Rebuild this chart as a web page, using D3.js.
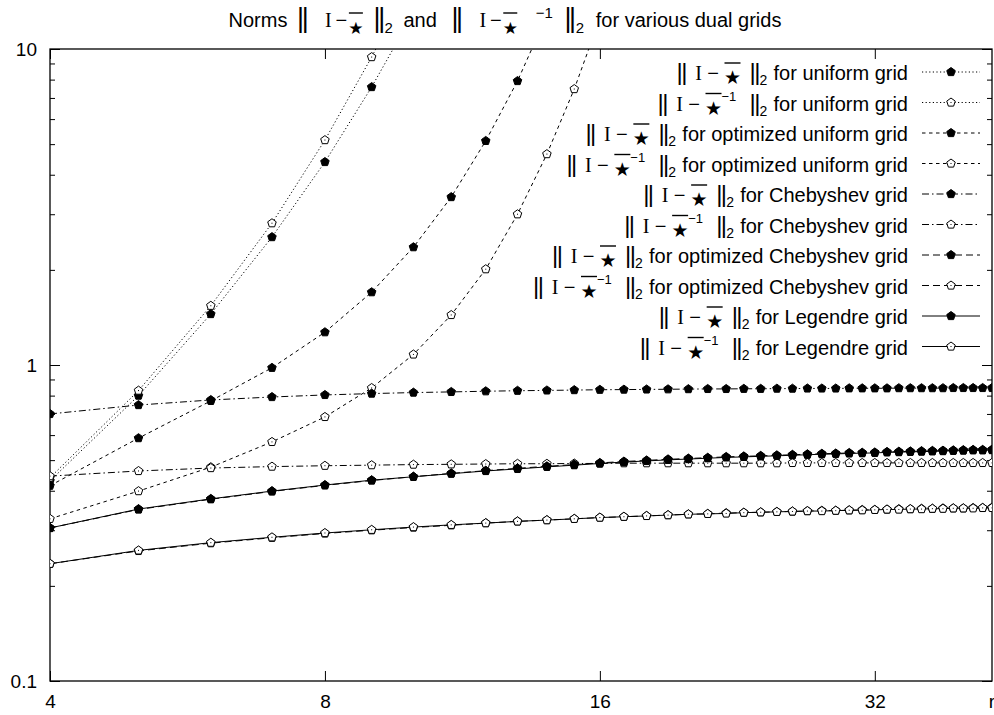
<!DOCTYPE html>
<html>
<head>
<meta charset="utf-8">
<script src="https://cdn.jsdelivr.net/npm/d3@7"></script>
<style>
  body { margin: 0; background: #fff; }
  svg { display: block; font-family: "Liberation Sans", Arial, sans-serif; }
</style>
</head>
<body>
<main></main>
<script>
// r values (number of grid points) on the x axis
const rValues = [4, 5, 6, 7, 8, 9, 10, 11, 12, 13, 14, 15, 16, 17, 18, 19, 20, 21, 22, 23,
  24, 25, 26, 27, 28, 29, 30, 31, 32, 33, 34, 35, 36, 37, 38, 39, 40, 41, 42, 43];
const xTicks = [4, 8, 16, 32];
const yTicks = [0.1, 1, 10];

// series values (index i -> rValues[i])
const uniformNorm = [0.43, 0.80, 1.45, 2.54, 4.39, 7.58, 13.0];
const uniformInvNorm = [0.44, 0.83, 1.54, 2.81, 5.15, 9.43, 17.0];
const optUniformNorm = [0.415, 0.587, 0.77, 0.98, 1.27, 1.70, 2.36, 3.40, 5.12, 7.92, 12.8];
const optUniformInvNorm = [0.326, 0.399, 0.475, 0.571, 0.685, 0.846, 1.08, 1.44, 2.01, 3.0, 4.65, 7.47, 12.5];
const chebNorm = [0.700, 0.747, 0.775, 0.792, 0.804, 0.812, 0.818, 0.822, 0.826, 0.829,
  0.831, 0.833, 0.835, 0.836, 0.837, 0.838, 0.839, 0.840, 0.840, 0.841,
  0.841, 0.842, 0.842, 0.843, 0.843, 0.843, 0.844, 0.844, 0.844, 0.844,
  0.845, 0.845, 0.845, 0.845, 0.845, 0.846, 0.846, 0.846, 0.846, 0.846];
const chebInvNorm = [0.445, 0.462, 0.472, 0.477, 0.480, 0.482, 0.484, 0.485, 0.486, 0.487,
  0.487, 0.488, 0.488, 0.489, 0.489, 0.489, 0.489, 0.489, 0.489, 0.489,
  0.489, 0.489, 0.490, 0.490, 0.490, 0.490, 0.490, 0.490, 0.490, 0.490,
  0.490, 0.490, 0.490, 0.490, 0.490, 0.490, 0.490, 0.490, 0.490, 0.490];
const optChebNorm = [0.305, 0.349, 0.376, 0.398, 0.416, 0.431, 0.443, 0.454, 0.463, 0.471,
  0.478, 0.484, 0.490, 0.495, 0.499, 0.503, 0.506, 0.509, 0.512, 0.514,
  0.516, 0.518, 0.520, 0.522, 0.524, 0.525, 0.527, 0.528, 0.529, 0.531,
  0.532, 0.533, 0.534, 0.535, 0.536, 0.537, 0.538, 0.539, 0.539, 0.540];
const optChebInvNorm = [0.235, 0.258, 0.273, 0.284, 0.293, 0.300, 0.306, 0.311, 0.316, 0.320,
  0.323, 0.326, 0.329, 0.331, 0.333, 0.335, 0.337, 0.338, 0.340, 0.341,
  0.342, 0.343, 0.344, 0.345, 0.346, 0.346, 0.347, 0.348, 0.348, 0.349,
  0.350, 0.350, 0.351, 0.351, 0.352, 0.352, 0.352, 0.353, 0.353, 0.354];
const legendreNorm = [0.305, 0.350, 0.377, 0.399, 0.417, 0.432, 0.443, 0.453, 0.462, 0.469,
  0.476, 0.482, 0.488, 0.493, 0.497, 0.501, 0.504, 0.507, 0.510, 0.512,
  0.514, 0.516, 0.518, 0.520, 0.522, 0.523, 0.525, 0.526, 0.527, 0.529,
  0.530, 0.531, 0.532, 0.533, 0.534, 0.535, 0.536, 0.537, 0.537, 0.538];
const legendreInvNorm = [0.235, 0.259, 0.274, 0.285, 0.294, 0.301, 0.307, 0.312, 0.316, 0.320,
  0.323, 0.326, 0.329, 0.331, 0.333, 0.335, 0.337, 0.338, 0.339, 0.341,
  0.342, 0.343, 0.344, 0.345, 0.345, 0.346, 0.347, 0.347, 0.348, 0.349,
  0.349, 0.350, 0.350, 0.351, 0.351, 0.352, 0.352, 0.352, 0.353, 0.353];

// legend texts and line styles
const series = [
  { values: uniformNorm, inv: false, grid: "for uniform grid", dash: "1.2,2.4", filled: true },
  { values: uniformInvNorm, inv: true, grid: "for uniform grid", dash: "1.2,2.4", filled: false },
  { values: optUniformNorm, inv: false, grid: "for optimized uniform grid", dash: "3.5,3.5", filled: true },
  { values: optUniformInvNorm, inv: true, grid: "for optimized uniform grid", dash: "3.5,3.5", filled: false },
  { values: chebNorm, inv: false, grid: "for Chebyshev grid", dash: "7,3,1.5,3", filled: true },
  { values: chebInvNorm, inv: true, grid: "for Chebyshev grid", dash: "7,3,1.5,3", filled: false },
  { values: optChebNorm, inv: false, grid: "for optimized Chebyshev grid", dash: "7,4", filled: true },
  { values: optChebInvNorm, inv: true, grid: "for optimized Chebyshev grid", dash: "7,4", filled: false },
  { values: legendreNorm, inv: false, grid: "for Legendre grid", dash: null, filled: true },
  { values: legendreInvNorm, inv: true, grid: "for Legendre grid", dash: null, filled: false }
];

const W = 994, H = 715,
  pd = { left: 50, right: 2, top: 49, bottom: 34 },
  sans = "Liberation Sans",
  fs = 20, tickFs = 19;

const x = d3.scaleLog().base(2).domain([4, 43]).range([pd.left, W - pd.right]);
const y = d3.scaleLog().domain([0.1, 10]).range([H - pd.bottom, pd.top]);

const svg = d3.select("main").append("svg").attr("width", W).attr("height", H);

svg.append("clipPath").attr("id", "plot")
  .append("rect")
  .attr("x", pd.left).attr("y", pd.top)
  .attr("width", W - pd.right - pd.left).attr("height", H - pd.bottom - pd.top);

// pentagon marker for d3.symbol
const pentagon = {
  draw(ctx, size) {
    const r = Math.sqrt(size);
    for (let i = 0; i < 5; i++) {
      const a = -Math.PI / 2 + i * 2 * Math.PI / 5;
      i ? ctx.lineTo(r * Math.cos(a), r * Math.sin(a)) : ctx.moveTo(r * Math.cos(a), r * Math.sin(a));
    }
    ctx.closePath();
  }
};
const marker = d3.symbol(pentagon, 20);

const drawMarker = (g, px, py, filled) => {
  g.append("path")
    .attr("d", marker())
    .attr("transform", "translate(" + px + "," + py + ")")
    .attr("fill", filled ? "#000" : "#fff")
    .attr("stroke", "#000")
    .attr("stroke-width", 1);
  if (!filled)
    g.append("rect").attr("x", px - 0.5).attr("y", py - 0.5).attr("width", 1).attr("height", 1).attr("fill", "#000");
};

/*---------Axes (ticks inward, on all four sides)-----------*/
const minors = [];
[0.1, 1].forEach((dec) => { for (let k = 2; k <= 9; k++) minors.push(dec * k); });

const axisG = svg.append("g");
axisG.append("g").attr("transform", "translate(" + pd.left + ",0)")
  .call(d3.axisLeft(y).tickValues(yTicks).tickFormat(d3.format("")).tickSize(-10).tickPadding(13));
axisG.append("g").attr("transform", "translate(" + pd.left + ",0)")
  .call(d3.axisLeft(y).tickValues(minors).tickFormat("").tickSize(-5));
axisG.append("g").attr("transform", "translate(" + (W - pd.right) + ",0)")
  .call(d3.axisRight(y).tickValues(yTicks).tickFormat("").tickSize(-10));
axisG.append("g").attr("transform", "translate(" + (W - pd.right) + ",0)")
  .call(d3.axisRight(y).tickValues(minors).tickFormat("").tickSize(-5));
axisG.append("g").attr("transform", "translate(0," + (H - pd.bottom) + ")")
  .call(d3.axisBottom(x).tickValues(xTicks).tickFormat(d3.format("")).tickSize(-10).tickPadding(14));
axisG.append("g").attr("transform", "translate(0," + pd.top + ")")
  .call(d3.axisTop(x).tickValues(xTicks).tickFormat("").tickSize(-10));
axisG.selectAll(".domain").remove();
axisG.selectAll("g").attr("font-family", sans).attr("font-size", tickFs);
axisG.selectAll("text").attr("fill", "#000");
axisG.selectAll("line").attr("stroke", "#000");

svg.append("rect")
  .attr("x", pd.left).attr("y", pd.top)
  .attr("width", W - pd.right - pd.left).attr("height", H - pd.bottom - pd.top)
  .attr("fill", "none").attr("stroke", "#000").attr("stroke-width", 1.3);

svg.append("text").attr("x", W - pd.right).attr("y", 708)
  .attr("text-anchor", "middle").style("font-size", tickFs + "px").text("r");

/*---------Math text: ||I - star||_2 drawn piece by piece-----------*/
// glyph offsets (px from the left bar) for the legend and for the title
const legendLayout = { bar: 24, star: 19, starDy: 4, over: -17, sup: 13, supDy: -10, sub: 14, subDy: 5,
  I: 20, minus: 34.5, starX: 54, starW: 16, supX: 62, bars2: [76.5, 95.5], subX: [81, 100], width: [88, 107] };
const titleLayout = { bar: 27, star: 17, starDy: 6.5, over: -14, sup: 15, supDy: -9, sub: 15, subDy: 6,
  I: 29, minus: 42, starX: 56.5, starW: 14, supX: 82, bars2: [80, 116.5], subX: [85, 122], width: [93, 128] };

function drawNorm(g, x0, inv, L) {
  const k = inv ? 1 : 0;
  const t = (px, txt, family, size, dy, anchor) => g.append("text")
    .attr("x", x0 + px).attr("y", dy).attr("text-anchor", anchor || "middle")
    .style("font-family", family).style("font-size", size + "px").text(txt);
  // double bar as one text, the two strokes 4.6px apart
  const bars = (c) => t(c - 2.3 - 0.13 * L.bar, "||", sans, L.bar, 0, "start")
    .style("letter-spacing", (4.6 - 0.26 * L.bar) + "px");
  bars(3.5);
  t(L.I, "I", "Liberation Serif", fs, 0);
  t(L.minus, "\u2212", sans, fs, 0);
  t(L.starX, "\u2605", "DejaVu Sans", L.star, L.starDy);
  g.append("line")
    .attr("x1", x0 + L.starX - L.starW / 2).attr("x2", x0 + L.starX + L.starW / 2)
    .attr("y1", L.over).attr("y2", L.over)
    .attr("stroke", "#000").attr("stroke-width", 1.4);
  if (inv) t(L.supX, "\u22121", sans, L.sup, L.supDy, "start");
  bars(L.bars2[k]);
  t(L.subX[k], "2", sans, L.sub, L.subDy, "start");
  return L.width[k];
}

// parts: [gap, string or {inv}]; returns the total width
function mathLine(g, parts, L) {
  let cx = 0;
  parts.forEach(([gap, p]) => {
    cx += gap;
    if (typeof p === "string") {
      const t = g.append("text").attr("x", cx).style("font-family", sans).style("font-size", fs + "px").text(p);
      cx += t.node().getComputedTextLength();
    } else {
      cx += drawNorm(g, cx, p.inv, L);
    }
  });
  return cx;
}

const title = svg.append("g").attr("transform", "translate(228.5,27)");
mathLine(title, [[0, "Norms"], [12, { inv: false }], [11, "and"], [17, { inv: true }], [14, "for various dual grids"]], titleLayout);

/*---------Series-----------*/
const plot = svg.append("g").attr("clip-path", "url(#plot)");
const line = d3.line().x((d) => x(d[0])).y((d) => y(d[1]));

series.forEach((s) => {
  const pts = s.values.map((v, i) => [rValues[i], v]);
  plot.append("path")
    .attr("d", line(pts))
    .attr("fill", "none")
    .attr("stroke", "#000")
    .attr("stroke-width", 1)
    .attr("stroke-dasharray", s.dash);
  pts.forEach((d) => drawMarker(plot, x(d[0]), y(d[1]), s.filled));
});

/*---------Legend-----------*/
const legend = svg.append("g");
series.forEach((s, i) => {
  const by = 80 + i * 30.5;
  const row = legend.append("g");
  const w = mathLine(row, [[0, { inv: s.inv }], [7, s.grid]], legendLayout);
  row.attr("transform", "translate(" + (908 - w) + "," + by + ")");
  legend.append("line")
    .attr("x1", 922).attr("x2", 980).attr("y1", by - 8).attr("y2", by - 8)
    .attr("stroke", "#000").attr("stroke-width", 1)
    .attr("stroke-dasharray", s.dash);
  drawMarker(legend, 951, by - 8, s.filled);
});
</script>
</body>
</html>
